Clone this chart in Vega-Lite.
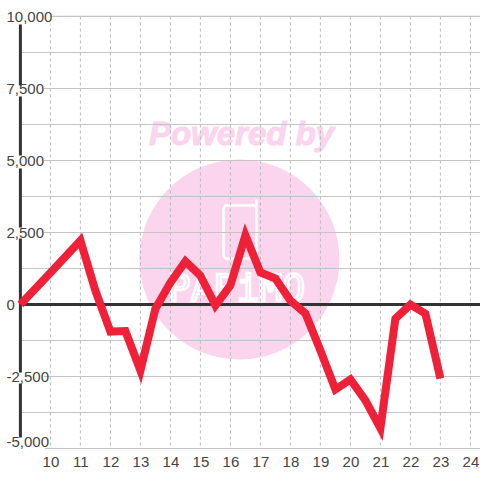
{
"$schema":"https://vega.github.io/schema/vega-lite/v6.json",
"width":480,"height":480,"autosize":{"type":"fit","contains":"padding"},"padding":0,
"background":"white","view":{"stroke":null},
"datasets":{
"series":[{"x":9,"v":0},{"x":10,"v":1100},{"x":11,"v":2220},{"x":11.5,"v":480},{"x":12,"v":-940},{"x":12.5,"v":-920},{"x":13,"v":-2290},{"x":13.5,"v":-150},{"x":14,"v":760},{"x":14.5,"v":1500},{"x":15,"v":1000},{"x":15.5,"v":-30},{"x":16,"v":660},{"x":16.5,"v":2400},{"x":17,"v":1110},{"x":17.5,"v":900},{"x":18,"v":140},{"x":18.5,"v":-310},{"x":19,"v":-1600},{"x":19.5,"v":-2950},{"x":20,"v":-2600},{"x":20.5,"v":-3330},{"x":21,"v":-4300},{"x":21.5,"v":-490},{"x":22,"v":0},{"x":22.5,"v":-320},{"x":23,"v":-2570}],
"hgrid":[{"x":9,"x2":24.4,"v":10000},{"x":9,"x2":24.4,"v":8750},{"x":9,"x2":24.4,"v":7500},{"x":9,"x2":24.4,"v":6250},{"x":9,"x2":24.4,"v":5000},{"x":9,"x2":24.4,"v":3750},{"x":9,"x2":24.4,"v":2500},{"x":9,"x2":24.4,"v":1250},{"x":9,"x2":24.4,"v":-1250},{"x":9,"x2":24.4,"v":-2500},{"x":9,"x2":24.4,"v":-3750},{"x":9,"x2":24.4,"v":-5000}],
"vgrid":[{"x":10,"v":10000,"v2":-5000},{"x":11,"v":10000,"v2":-5000},{"x":12,"v":10000,"v2":-5000},{"x":13,"v":10000,"v2":-5000},{"x":14,"v":10000,"v2":-5000},{"x":15,"v":10000,"v2":-5000},{"x":16,"v":10000,"v2":-5000},{"x":17,"v":10000,"v2":-5000},{"x":18,"v":10000,"v2":-5000},{"x":19,"v":10000,"v2":-5000},{"x":20,"v":10000,"v2":-5000},{"x":21,"v":10000,"v2":-5000},{"x":22,"v":10000,"v2":-5000},{"x":23,"v":10000,"v2":-5000},{"x":24,"v":10000,"v2":-5000}],
"boxes":[{"x":8.4,"x2":10.05,"v":10500,"v2":9720},{"x":8.4,"x2":9.78,"v":7604,"v2":7222},{"x":8.4,"x2":9.78,"v":5173,"v2":4722},{"x":8.4,"x2":9.78,"v":2674,"v2":2290},{"x":8.35,"x2":9.78,"v":-2360,"v2":-2743},{"x":8.35,"x2":9.82,"v":-4618,"v2":-5350}]
},
"encoding":{
"x":{"field":"x","type":"quantitative","scale":{"domain":[8.32,24.32],"range":[0,480],"nice":false,"zero":false},"axis":{"orient":"bottom","values":[10,11,12,13,14,15,16,17,18,19,20,21,22,23,24],"title":null,"grid":false,"ticks":false,"domain":false,"labelPadding":-19,"labelBaseline":"middle","labelFont":"Liberation Sans","labelFontSize":15,"labelColor":"#444444","labelOverlap":false,"labelFlush":false,"zindex":1,"format":"d"}},
"y":{"field":"v","type":"quantitative","scale":{"domain":[-6094,10572],"range":[480,0],"nice":false,"zero":false},"axis":{"orient":"left","values":[10000,7500,5000,2500,0,-2500,-5000],"title":null,"grid":false,"ticks":false,"domain":false,"labelPadding":-6,"labelAlign":"left","labelBaseline":"middle","labelOffset":{"condition":{"test":"datum.value==-5000","value":-7},"value":0},"labelFont":"Liberation Sans","labelFontSize":15,"labelColor":"#444444","labelOverlap":false,"labelFlush":false,"zindex":1,"labelExpr":"replace(format(datum.value,',d'),'−','-')"}}
},
"layer":[
{"data":{"values":[{"x":16.3,"v":1562}]},"mark":{"type":"point","shape":"circle","filled":true,"size":40000,"color":"#fbd5ee","opacity":1}},
{"data":{"values":[{"x":16.37,"v":5900,"t":"Powered by"}]},"mark":{"type":"text","font":"Liberation Sans","fontSize":33,"fontWeight":"bold","fontStyle":"italic","color":"#fbd5ee","stroke":"#fbd5ee","strokeWidth":1,"baseline":"middle"},"encoding":{"text":{"field":"t"}}},
{"data":{"values":[{"x":16.2,"v":490,"t":"PAPiMO"}]},"mark":{"type":"text","font":"DejaVu Sans Mono","fontSize":38,"fill":null,"stroke":"white","strokeWidth":2.5,"baseline":"middle"},"encoding":{"text":{"field":"t"}}},
{"data":{"values":[{"x":15.77,"x2":16.87,"v":3437,"v2":1597}]},"mark":{"type":"rect","fill":null,"stroke":"white","strokeWidth":2.5,"cornerRadius":3},"encoding":{"x2":{"field":"x2"},"y2":{"field":"v2"}}},
{"data":{"values":[{"x":16.87,"v":3620,"v2":3437}]},"mark":{"type":"rule","stroke":"white","strokeWidth":2.5,"strokeCap":"round"},"encoding":{"y2":{"field":"v2"}}},
{"data":{"name":"vgrid"},"mark":{"type":"rule","color":"#b8b8b8","strokeWidth":1,"strokeDash":[3,3]},"encoding":{"y2":{"field":"v2"}}},
{"data":{"name":"hgrid"},"mark":{"type":"rule","color":"#c4c4c4","strokeWidth":1.2},"encoding":{"x2":{"field":"x2"}}},
{"data":{"values":[{"x":9,"x2":24.4,"v":0}]},"mark":{"type":"rule","color":"#333333","strokeWidth":3},"encoding":{"x2":{"field":"x2"}}},
{"data":{"values":[{"x":9,"v":10000,"v2":-5000}]},"mark":{"type":"rule","color":"#333333","strokeWidth":3},"encoding":{"y2":{"field":"v2"}}},
{"data":{"name":"boxes"},"mark":{"type":"rect","color":"white"},"encoding":{"x2":{"field":"x2"},"y2":{"field":"v2"}}},
{"data":{"name":"series"},"mark":{"type":"line","color":"#ef2038","strokeWidth":8,"strokeJoin":"miter","strokeCap":"butt"}}
]
}
